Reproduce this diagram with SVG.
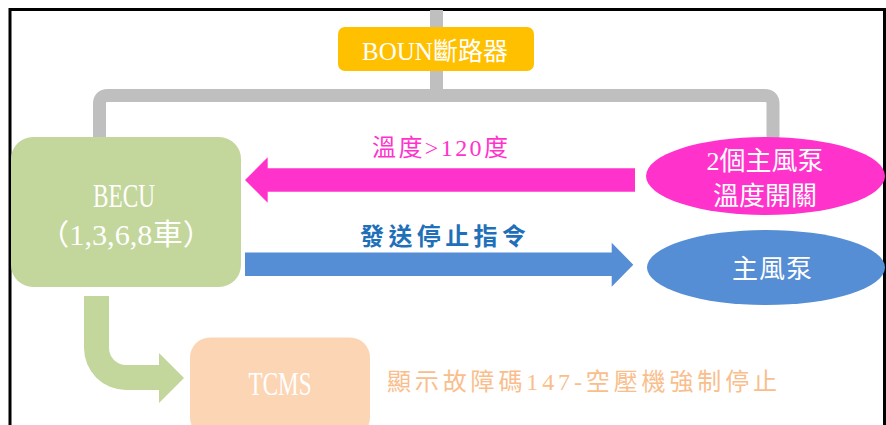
<svg xmlns="http://www.w3.org/2000/svg" width="886" height="425" viewBox="0 0 886 425">
<style>
.wt{fill:#fff;font-family:"Liberation Serif","Noto Sans CJK TC",serif;text-anchor:middle}
.cj{font-family:"Liberation Serif","Noto Sans CJK TC",serif;text-anchor:middle}
</style>
<rect width="886" height="425" fill="#fff"/>
<path d="M10 425 V9.5 H884.5 V425" fill="none" stroke="#000" stroke-width="3"/>
<g id="connectors">
<path d="M436.5 10 V96" fill="none" stroke="#BFBFBF" stroke-width="13"/>
<path d="M99.5 138 V104 Q99.5 95.5 108 95.5 H764.5 Q773 95.5 773 104 V138" fill="none" stroke="#BFBFBF" stroke-width="13"/>
<path d="M635 168.3 H267.7 V157.3 L245 180 L267.7 202.7 V191.7 H635 Z" fill="#FF33CC"/>
<path d="M245 252.5 H611.7 V242.7 L633.3 264.7 L611.7 286.7 V276 H245 Z" fill="#558ED5"/>
<path d="M84 296 H109 V348 A17 17 0 0 0 126 365 H159 V353 L184 378 L159 403 V390 H126 A42 42 0 0 1 84 348 Z" fill="#C3D69B"/>
<text class="cj" x="440" y="156" font-size="24" fill="#FF33CC" textLength="136" lengthAdjust="spacing">溫度&gt;120度</text>
<text class="cj" x="443" y="245" font-size="24" font-weight="bold" fill="#1F70B8" textLength="166" lengthAdjust="spacing">發送停止指令</text>
</g>
<g id="boun">
<rect x="338" y="27" width="196" height="44" rx="7" fill="#FFC000"/>
<text class="wt" x="435" y="60" font-size="25">BOUN斷路器</text>
</g>
<g id="becu">
<rect x="11" y="137" width="230" height="150" rx="22" fill="#C3D69B"/>
<text class="wt" x="124" y="207" font-size="33" textLength="62" lengthAdjust="spacingAndGlyphs">BECU</text>
<text class="wt" x="126" y="245" font-size="29" textLength="174" lengthAdjust="spacingAndGlyphs">（1,3,6,8車）</text>
</g>
<g id="switch">
<ellipse cx="765.5" cy="176" rx="119.5" ry="39" fill="#FF33CC"/>
<text class="wt" x="765" y="170" font-size="26">2個主風泵</text>
<text class="wt" x="765" y="205" font-size="26">溫度開關</text>
</g>
<g id="pump">
<ellipse cx="766" cy="267.5" rx="119" ry="37.5" fill="#558ED5"/>
<text class="wt" x="772" y="278" font-size="26" textLength="80" lengthAdjust="spacing">主風泵</text>
</g>
<g id="tcms">
<rect x="190" y="337.5" width="180" height="100" rx="20" fill="#FCD5B5"/>
<text class="wt" x="280" y="395" font-size="33" textLength="63" lengthAdjust="spacingAndGlyphs">TCMS</text>
</g>
<g id="note">
<text class="cj" x="582" y="390" font-size="24" fill="#F9BE8C" textLength="390" lengthAdjust="spacing">顯示故障碼147-空壓機強制停止</text>
</g>
</svg>
